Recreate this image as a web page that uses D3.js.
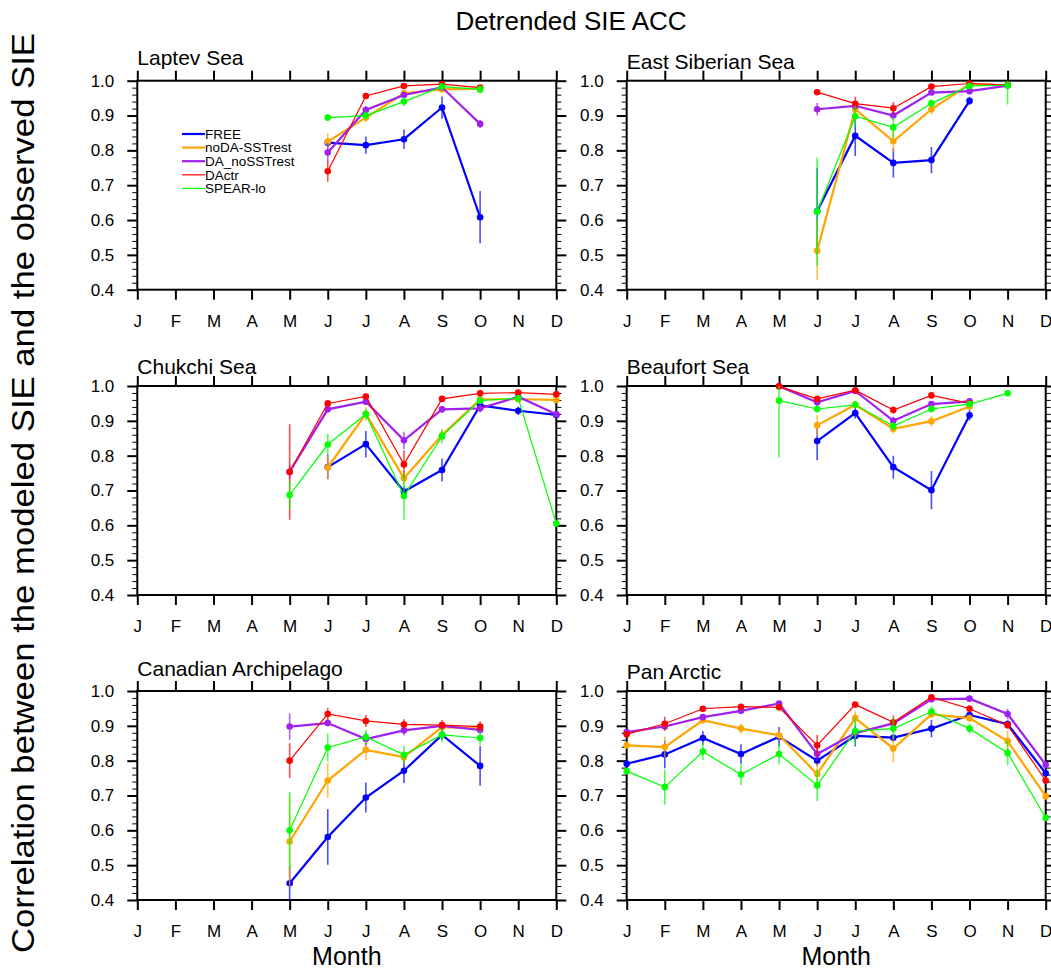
<!DOCTYPE html>
<html>
<head>
<meta charset="utf-8">
<script src="https://cdn.jsdelivr.net/npm/d3@7"></script>
<style>
  body { margin: 0; background: #fff; }
  svg { font-family: "Liberation Sans", Arial, Helvetica, sans-serif; }
</style>
</head>
<body>
<svg id="chart" width="1051" height="971"></svg>
<script>

// ---- data ----
var N = null;
var monthLabels = ["J","F","M","A","M","J","J","A","S","O","N","D"];
var seriesNames = ["FREE","noDA-SSTrest","DA_noSSTrest","DActr","SPEAR-lo"];
var regionNames = ["Laptev Sea","East Siberian Sea","Chukchi Sea","Beaufort Sea","Canadian Archipelago","Pan Arctic"];
var yTicks = [0.4, 0.5, 0.6, 0.7, 0.8, 0.9, 1.0];

// rows = series (FREE, noDA-SSTrest, DA_noSSTrest, DActr, SPEAR-lo), cols = month
var laptevAcc = [
	[N,N,N,N,N,.822,.815,.832,.923,.608,N,N],
	[N,N,N,N,N,.825,.894,.964,.975,.977,N,N],
	[N,N,N,N,N,.794,.916,.959,.981,.876,N,N],
	[N,N,N,N,N,.740,.956,.985,.990,.980,N,N],
	[N,N,N,N,N,.894,.900,.940,.983,.975,N,N]];
var laptevErr = [
	[N,N,N,N,N,.010,.025,.028,.032,.075,N,N],
	[N,N,N,N,N,.024,.012,.010,.008,.006,N,N],
	[N,N,N,N,N,.027,.012,.008,.006,.012,N,N],
	[N,N,N,N,N,.030,.006,.004,.004,.004,N,N],
	[N,N,N,N,N,.010,.012,.013,.008,.012,N,N]];

var eastSibAcc = [
	[N,N,N,N,N,.625,.842,.764,.772,.942,N,N],
	[N,N,N,N,N,.512,.918,.826,.918,.990,.987,N],
	[N,N,N,N,N,.918,.928,.900,.966,.970,.986,N],
	[N,N,N,N,N,.967,.934,.921,.983,.992,.988,N],
	[N,N,N,N,N,.624,.898,.866,.935,.985,.987,N]];
var eastSibErr = [
	[N,N,N,N,N,.125,.058,.042,.038,.012,N,N],
	[N,N,N,N,N,.085,.015,.030,.015,.005,.005,N],
	[N,N,N,N,N,.018,.012,.012,.006,.006,.004,N],
	[N,N,N,N,N,.006,.020,.018,.004,.003,.003,N],
	[N,N,N,N,N,.155,.030,.030,.012,.006,.055,N]];

var chukchiAcc = [
	[N,N,N,N,N,.767,.833,.697,.759,.944,.929,.917],
	[N,N,N,N,N,.766,.920,.735,.859,.962,.962,.960],
	[N,N,N,N,.754,.933,.955,.844,.933,.936,.969,.919],
	[N,N,N,N,.753,.950,.970,.775,.963,.979,.981,.976],
	[N,N,N,N,.687,.832,.919,.684,.856,.958,.965,.605]];
var chukchiErr = [
	[N,N,N,N,N,.035,.038,.015,.033,.010,.012,.008],
	[N,N,N,N,N,.032,.020,.020,.015,.008,.008,.006],
	[N,N,N,N,.020,.010,.008,.025,.010,.012,.006,.008],
	[N,N,N,N,.137,.006,.006,.040,.006,.004,.004,.004],
	[N,N,N,N,.040,.030,.015,.068,.020,.008,.008,.005]];

var beaufortAcc = [
	[N,N,N,N,N,.842,.922,.767,.701,.916,N,N],
	[N,N,N,N,N,.887,.946,.877,.899,.941,N,N],
	[N,N,N,N,.999,.953,.986,.900,.948,.956,N,N],
	[N,N,N,N,.999,.963,.988,.931,.973,.950,N,N],
	[N,N,N,N,.958,.934,.946,.885,.934,.948,.979,N]];
var beaufortErr = [
	[N,N,N,N,N,.055,.015,.033,.055,.015,N,N],
	[N,N,N,N,N,.030,.010,.015,.015,.008,N,N],
	[N,N,N,N,.003,.010,.004,.012,.008,.006,N,N],
	[N,N,N,N,.002,.008,.004,.010,.005,.006,N,N],
	[N,N,N,N,.163,.010,.010,.012,.010,.008,.005,N]];

var canadianAcc = [
	[N,N,N,N,.448,.581,.694,.771,.874,.785,N,N],
	[N,N,N,N,.568,.743,.831,.810,.896,.893,N,N],
	[N,N,N,N,.898,.908,.862,.887,.900,.888,N,N],
	[N,N,N,N,.800,.934,.914,.904,.902,.898,N,N],
	[N,N,N,N,.600,.838,.868,.817,.874,.865,N,N]];
var canadianErr = [
	[N,N,N,N,.050,.080,.043,.035,.015,.057,N,N],
	[N,N,N,N,.130,.050,.030,.015,.010,.010,N,N],
	[N,N,N,N,.038,.010,.020,.015,.010,.010,N,N],
	[N,N,N,N,.050,.017,.017,.015,.015,.015,N,N],
	[N,N,N,N,.110,.040,.020,.025,.020,.020,N,N]];

var panArcticAcc = [
	[.791,.818,.865,.819,.869,.800,.871,.866,.892,.931,.905,.764],
	[.844,.839,.916,.892,.873,.762,.922,.835,.933,.922,.856,.698],
	[.882,.898,.925,.943,.964,.819,.879,.907,.976,.978,.934,.788],
	[.876,.906,.949,.955,.953,.844,.961,.910,.982,.949,.902,.743],
	[.770,.724,.826,.760,.819,.729,.885,.892,.941,.892,.822,.636]];
var panArcticErr = [
	[.010,.040,.020,.028,.028,.015,.030,.010,.025,.010,.010,.008],
	[.010,.030,.010,.015,.015,.030,.020,.040,.010,.010,.030,.010],
	[.008,.010,.008,.006,.005,.020,.015,.010,.004,.004,.015,.010],
	[.008,.020,.006,.005,.006,.030,.005,.020,.004,.010,.010,.010],
	[.010,.050,.025,.030,.030,.045,.040,.030,.015,.015,.035,.010]];

var panelAcc = [laptevAcc, eastSibAcc, chukchiAcc, beaufortAcc, canadianAcc, panArcticAcc];
var panelErr = [laptevErr, eastSibErr, chukchiErr, beaufortErr, canadianErr, panArcticErr];

// ---- styling / layout ----
var seriesColors = ["#0000ff", "#ffa500", "#a020f0", "#ff0000", "#00ff00"];
var seriesWidths = [2.2, 2.2, 2.2, 1.2, 1.2];

var PLOT_W = 419,
	PLOT_H = 209,
	COL_X = [137.3, 626.7],
	ROW_Y = [80.7, 386, 691];

var svg = d3.select("#chart");

svg.append("text")
	.attr("x", 571)
	.attr("y", 30)
	.attr("text-anchor", "middle")
	.style("font-size", "26px")
	.text("Detrended SIE ACC");

svg.append("text")
	.attr("transform", "translate(34,493) rotate(-90)")
	.attr("text-anchor", "middle")
	.attr("textLength", 920)
	.attr("lengthAdjust", "spacingAndGlyphs")
	.style("font-size", "31px")
	.text("Correlation between the modeled SIE and the observed SIE");

var x = d3.scalePoint()
	.domain(d3.range(12))
	.range([0, PLOT_W]);

var y = d3.scaleLinear()
	.domain([0.4, 1.0])
	.range([PLOT_H, 0]);

var minorTicks = d3.range(0.4, 1.0001, 0.02)
	.map(d => +d.toFixed(2))
	.filter(d => yTicks.indexOf(d) < 0);

function build_panel(p) {

	var col = p % 2,
		row = Math.floor(p / 2);

	var g = svg.append("g")
		.attr("transform", "translate(" + COL_X[col] + "," + ROW_Y[row] + ")");

	var clipId = "clip" + p;
	g.append("clipPath")
		.attr("id", clipId)
		.append("rect")
		.attr("x", -12)
		.attr("y", 0)
		.attr("width", PLOT_W + 24)
		.attr("height", PLOT_H);

	// axes
	var left = g.append("g")
		.call(d3.axisLeft(y).tickValues(yTicks).tickSize(10).tickPadding(13)
			.tickFormat(d3.format(".1f")));
	var leftMinor = g.append("g")
		.call(d3.axisLeft(y).tickValues(minorTicks).tickSize(5).tickFormat(""));
	var right = g.append("g")
		.attr("transform", "translate(" + PLOT_W + ",0)")
		.call(d3.axisRight(y).tickValues(yTicks).tickSize(10).tickFormat(""));
	var rightMinor = g.append("g")
		.attr("transform", "translate(" + PLOT_W + ",0)")
		.call(d3.axisRight(y).tickValues(minorTicks).tickSize(5).tickFormat(""));
	var bottom = g.append("g")
		.attr("transform", "translate(0," + PLOT_H + ")")
		.call(d3.axisBottom(x).tickSize(10).tickPadding(15)
			.tickFormat(i => monthLabels[i]));
	var top = g.append("g")
		.call(d3.axisTop(x).tickSize(10).tickFormat(""));

	[left, right, bottom, top].forEach(function(a) {
		a.select(".domain").remove();
		a.selectAll(".tick line").attr("stroke", "#000").attr("stroke-width", 2);
		a.selectAll("text").style("font-size", "17px").attr("fill", "#000");
	});
	[leftMinor, rightMinor].forEach(function(a) {
		a.select(".domain").remove();
		a.selectAll(".tick line").attr("stroke", "#000").attr("stroke-width", 1);
	});

	g.append("rect")
		.attr("width", PLOT_W)
		.attr("height", PLOT_H)
		.attr("fill", "none")
		.attr("stroke", "#000")
		.attr("stroke-width", 2);

	// region title, its descender-bottom sits just above the frame
	var name = regionNames[p];
	g.append("text")
		.attr("x", 0)
		.attr("y", /[gjpqy]/.test(name) ? -15.5 : -12)
		.style("font-size", "21px")
		.text(name);

	var acc = panelAcc[p],
		err = panelErr[p];

	var line = d3.line()
		.defined(d => d.v != null)
		.x(d => x(d.m))
		.y(d => y(d.v));

	seriesNames.forEach(function(s, k) {

		var pts = acc[k].map(function(v, m) {
			return {m: m, v: v, e: err[k][m]};
		});
		var valid = pts.filter(d => d.v != null);

		g.append("g")
			.attr("clip-path", "url(#" + clipId + ")")
			.selectAll("line")
			.data(valid.filter(d => d.e != null))
			.enter()
			.append("line")
				.attr("x1", d => x(d.m))
				.attr("x2", d => x(d.m))
				.attr("y1", d => y(d.v - d.e))
				.attr("y2", d => y(d.v + d.e))
				.attr("stroke", seriesColors[k])
				.attr("stroke-opacity", 0.7)
				.attr("stroke-width", 1.6);

		g.append("path")
			.datum(pts)
			.attr("d", line)
			.attr("fill", "none")
			.attr("stroke", seriesColors[k])
			.attr("stroke-width", seriesWidths[k]);

		g.append("g")
			.selectAll("circle")
			.data(valid)
			.enter()
			.append("circle")
				.attr("cx", d => x(d.m))
				.attr("cy", d => y(d.v))
				.attr("r", 3.3)
				.attr("fill", seriesColors[k]);
	});

	if (row == 2) {
		g.append("text")
			.attr("x", PLOT_W / 2)
			.attr("y", 273.5)
			.attr("text-anchor", "middle")
			.style("font-size", "25px")
			.text("Month");
	}

	if (p == 0) {
		var legend = g.append("g")
			.attr("transform", "translate(" + (182 - COL_X[0]) + "," + (134 - ROW_Y[0]) + ")");

		var items = legend.selectAll(".item")
			.data(seriesNames)
			.enter()
			.append("g")
				.attr("class", "item")
				.attr("transform", (d, i) => "translate(0," + i * 13.6 + ")");

		items.append("line")
			.attr("x1", 0)
			.attr("x2", 23)
			.attr("stroke", (d, i) => seriesColors[i])
			.attr("stroke-width", (d, i) => seriesWidths[i]);

		items.append("text")
			.attr("x", 23)
			.attr("dy", ".35em")
			.style("font-size", "13.5px")
			.text(d => d);
	}
}

d3.range(6).forEach(build_panel);

</script>
</body>
</html>
